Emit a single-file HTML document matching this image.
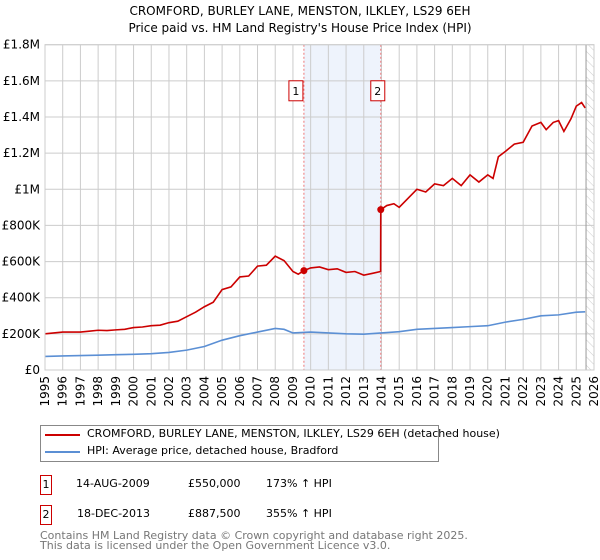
<!DOCTYPE html>
<html><head><meta charset="utf-8"><style>
body{margin:0;background:#fff;font-family:"Liberation Sans","DejaVu Sans",sans-serif;}
#wrap{position:relative;width:600px;height:560px;overflow:hidden}
svg text{font-family:"DejaVu Sans","Liberation Sans",sans-serif}
.t{position:absolute;font-family:"DejaVu Sans","Liberation Sans",sans-serif;font-size:12px;color:#000;white-space:nowrap}
</style></head><body><div id="wrap">
<svg id="chart" width="600" height="420" style="position:absolute;left:0;top:0"></svg>
<div class="t" style="left:40px;top:425px;width:397px;height:35px;border:1px solid #888;"></div>
<div style="position:absolute;left:45px;top:434px;width:35px;height:2px;background:#cc0000"></div>
<div class="t" style="left:87px;top:427px;font-size:11px">CROMFORD, BURLEY LANE, MENSTON, ILKLEY, LS29 6EH (detached house)</div>
<div style="position:absolute;left:45px;top:451px;width:35px;height:2px;background:#5b8fd4"></div>
<div class="t" style="left:87px;top:444px;font-size:11px">HPI: Average price, detached house, Bradford</div>
<div class="t" style="left:40px;top:475px;width:10px;height:18px;border:1px solid #cc0000;text-align:center;line-height:18px;font-size:11px">1</div>
<div class="t" style="left:76px;top:477px;font-size:11px">14-AUG-2009</div>
<div class="t" style="left:188px;top:477px;font-size:11px">£550,000</div>
<div class="t" style="left:266px;top:477px;font-size:11px">173% ↑ HPI</div>
<div class="t" style="left:40px;top:505px;width:10px;height:18px;border:1px solid #cc0000;text-align:center;line-height:18px;font-size:11px">2</div>
<div class="t" style="left:77px;top:507px;font-size:11px">18-DEC-2013</div>
<div class="t" style="left:188px;top:507px;font-size:11px">£887,500</div>
<div class="t" style="left:266px;top:507px;font-size:11px">355% ↑ HPI</div>
<div class="t" style="left:40px;top:531px;font-size:11px;color:#777;line-height:10px">Contains HM Land Registry data © Crown copyright and database right 2025.<br>This data is licensed under the Open Government Licence v3.0.</div>
</div>
<script>
const redYears=[1995,1995.5,1996,1996.5,1997,1997.5,1998,1998.5,1999,1999.5,2000,2000.5,2001,2001.5,2002,2002.5,2003,2003.5,2004,2004.5,2005,2005.5,2006,2006.5,2007,2007.5,2008,2008.5,2009,2009.3,2009.62,2010,2010.5,2011,2011.5,2012,2012.5,2013,2013.5,2013.95,2013.96,2014.3,2014.7,2015,2015.5,2016,2016.5,2017,2017.5,2018,2018.5,2019,2019.5,2020,2020.3,2020.6,2021,2021.5,2022,2022.5,2023,2023.3,2023.7,2024,2024.3,2024.7,2025,2025.3,2025.5];
const redValues=[200,205,210,210,210,215,220,218,222,225,235,238,245,248,262,270,295,320,350,375,445,460,515,520,575,580,630,605,545,530,550,565,570,555,560,540,545,525,535,545,887.5,910,920,900,950,1000,985,1030,1020,1060,1020,1080,1040,1080,1060,1180,1210,1250,1260,1350,1370,1330,1370,1380,1320,1390,1460,1480,1450];
const hpiYears=[1995,1996,1997,1998,1999,2000,2001,2002,2003,2004,2005,2006,2007,2008,2008.5,2009,2010,2011,2012,2013,2014,2015,2016,2017,2018,2019,2020,2021,2022,2023,2024,2025,2025.5];
const hpiValues=[75,78,80,82,85,87,90,97,110,130,165,190,210,230,225,205,210,205,200,198,205,212,225,230,235,240,245,265,280,300,305,320,322];
const saleYears=[2009.62,2013.96];
const saleValues=[550,887.5];
const saleLabels=["1","2"];
const yTicks=[0,200,400,600,800,1000,1200,1400,1600,1800];
const yTickLabels=["£0","£200K","£400K","£600K","£800K","£1M","£1.2M","£1.4M","£1.6M","£1.8M"];
const xTicks=[1995,1996,1997,1998,1999,2000,2001,2002,2003,2004,2005,2006,2007,2008,2009,2010,2011,2012,2013,2014,2015,2016,2017,2018,2019,2020,2021,2022,2023,2024,2025,2026];

const NS="http://www.w3.org/2000/svg";
const svg=document.getElementById('chart');
const X0=45,X1=594,Y0=370,Y1=44.7;
const xs=y=>X0+(y-1995)/31*(X1-X0);
const ys=v=>Y0-v/1800*(Y0-Y1);
function mk(tag,attrs,parent){const e=document.createElementNS(NS,tag);for(const k in attrs)e.setAttribute(k,attrs[k]);(parent||svg).appendChild(e);return e;}

let e;
e=mk('text',{x:300,y:15,'text-anchor':'middle','font-size':12});e.textContent="CROMFORD, BURLEY LANE, MENSTON, ILKLEY, LS29 6EH";


e=mk('text',{x:300,y:32,'text-anchor':'middle','font-size':12});e.textContent="Price paid vs. HM Land Registry's House Price Index (HPI)";



e=mk('rect',{x:xs(saleYears[0]),y:Y1,width:xs(saleYears[1])-xs(saleYears[0]),height:Y0-Y1,fill:'#eef3fc'});


// hatch
const defs=mk('defs',{});
const pat=mk('pattern',{id:'h',width:6,height:6,patternUnits:'userSpaceOnUse',patternTransform:'rotate(-45)'},defs);
mk('line',{x1:0,y1:0,x2:0,y2:6,stroke:'#ccc','stroke-width':1},pat);
e=mk('rect',{x:xs(2025.55),y:Y1,width:X1-xs(2025.55),height:Y0-Y1,fill:'url(#h)'});



yTicks.forEach((v,i)=>{
 const g=mk('line',{x1:X0,x2:X1,y1:ys(v),y2:ys(v),stroke:'#ccc','stroke-width':1});
 
 
 const t=mk('text',{x:X0-5,y:ys(v)+4,'text-anchor':'end','font-size':12});t.textContent=yTickLabels[i];
 
 
});
xTicks.forEach(yr=>{
 const g=mk('line',{x1:xs(yr),x2:xs(yr),y1:Y1,y2:Y0,stroke:'#ccc','stroke-width':1});
 
 
 const t=mk('text',{x:0,y:0,'text-anchor':'end','font-size':12,transform:`translate(${xs(yr)+4},${Y0+6}) rotate(-90)`});t.textContent=yr;
 
 
});
e=mk('line',{x1:xs(2025.55),x2:xs(2025.55),y1:Y1,y2:Y0,stroke:'#999','stroke-width':1});



saleYears.forEach((yr,i)=>{
 const l=mk('line',{x1:xs(yr),x2:xs(yr),y1:Y1,y2:Y0,stroke:'#ee7777','stroke-width':1,'stroke-dasharray':'2,2'});
 
 
});

e=mk('polyline',{points:hpiYears.map((y,i)=>xs(y)+','+ys(hpiValues[i])).join(' '),fill:'none',stroke:'#5b8fd4','stroke-width':1.6});


e=mk('polyline',{points:redYears.map((y,i)=>xs(y)+','+ys(redValues[i])).join(' '),fill:'none',stroke:'#cc0000','stroke-width':1.6});



saleYears.forEach((yr,i)=>{
 const c=mk('circle',{cx:xs(yr),cy:ys(saleValues[i]),r:3.5,fill:'#cc0000'});
 
 
 const bx=xs(yr)+(i==0?-15:-10);
 const r=mk('rect',{x:bx,y:ys(1545)-10,width:14,height:20,fill:'#fff',stroke:'#cc0000','stroke-width':1});
 
 
 const t=mk('text',{x:bx+7,y:ys(1545)+4,'text-anchor':'middle','font-size':11});t.textContent=saleLabels[i];
 
 
});
e=mk('rect',{x:X0,y:Y1,width:X1-X0,height:Y0-Y1,fill:'none',stroke:'#ccc','stroke-width':1});


</script></body></html>
